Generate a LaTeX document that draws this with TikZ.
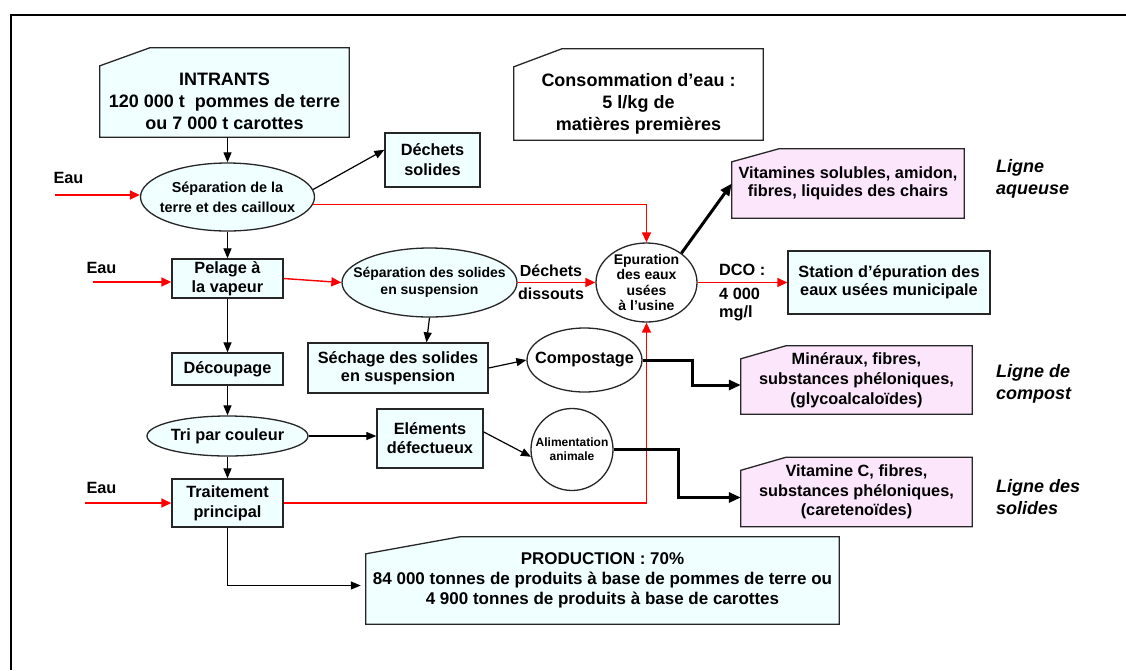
\documentclass[tikz,border=0pt]{standalone}
\usepackage{fontspec}
\setmainfont{Liberation Sans}
\usepackage{tikz}
\usetikzlibrary{
  arrows.meta,
  shapes.geometric,
  calc,
  backgrounds,
}
\definecolor{boxcyan}{HTML}{F0FFFF}
\definecolor{boxpink}{HTML}{FCE6FC}
\definecolor{edge}{HTML}{262626}

\begin{document}
\begin{tikzpicture}[
  x=1pt, y=-1pt,
  txt/.style={font=\fontsize{16.3}{19}\selectfont\bfseries, align=center, inner sep=0pt},
  box/.style={txt, draw=edge, line width=1.3pt, fill=boxcyan},
  cutbox/.style={txt},
  cutline/.style={draw=edge, line width=1.3pt},
  ell/.style={ellipse, draw=edge, line width=1.3pt, fill=boxcyan, inner sep=0pt},
  arr/.style={-{Triangle[length=10pt,width=8pt]}, line width=1.2pt},
  water/.style={-{Triangle[length=10pt,width=9pt]}, red, line width=1.4pt},
  heavy/.style={-{Triangle[length=12pt,width=10pt]}, line width=3pt},
  side/.style={font=\fontsize{18}{22}\selectfont\bfseries\itshape, align=left, anchor=west, inner sep=0pt},
]
  \useasboundingbox (0,0) rectangle (1126,670);
  % Frame
  \draw[line width=2pt] (11,670) -- (11,15) -- (1126,15);

  % Main line
  \node[cutbox, minimum width=249, minimum height=71, font=\fontsize{18}{22}\selectfont\bfseries] (intrants) at (224.5,101.5)
    {INTRANTS\\120~000~t\ \ pommes de terre\\ou 7~000~t carottes};
  \node[ell, minimum width=174, minimum height=68,
    label={[txt, font=\fontsize{14.4}{20}\selectfont\bfseries]center:{Séparation de la\\terre et des cailloux}}] (septerre) at (227.5,197) {};
  \node[box, minimum width=95, minimum height=54, font=\fontsize{16.3}{20}\selectfont\bfseries] (dechets) at (432.5,160) {Déchets\\solides};
  \node[cutbox, minimum width=249, minimum height=73, font=\fontsize{18}{22}\selectfont\bfseries] (conso) at (638.5,103.5)
    {Consommation d’eau :\\5 l/kg de\\matières premières};
  \node[box, minimum width=111, minimum height=39] (pelage) at (227.5,278.5) {Pelage à\\la vapeur};
  \node[ell, minimum width=175, minimum height=69,
    label={[txt, font=\fontsize{14}{17}\selectfont\bfseries]center:{Séparation des solides\\en suspension}}] (sepsol) at (429.5,282.5) {};
  \node[ell, fill=white, minimum width=101, minimum height=79,
    label={[txt, font=\fontsize{14}{15.5}\selectfont\bfseries]center:{Epuration\\des eaux\\usées\\à l’usine}}] (epur) at (646.5,282.5) {};
  \node[box, minimum width=202, minimum height=63, font=\fontsize{16.3}{18}\selectfont\bfseries] (station) at (889,282.5)
    {Station d’épuration des\\eaux usées municipale};
  \node[cutbox, minimum width=232, minimum height=69, font=\fontsize{16.3}{18}\selectfont\bfseries] (vitsol) at (848,183.5)
    {Vitamines solubles, amidon,\\fibres, liquides des chairs};
  \node[box, minimum width=111, minimum height=32] (decoup) at (227.5,369) {Découpage};
  \node[box, minimum width=180, minimum height=50, font=\fontsize{16.3}{18}\selectfont\bfseries] (sechage) at (398,368)
    {Séchage des solides\\en suspension};
  \node[ell, fill=white, minimum width=115, minimum height=64, label={[txt]center:Compostage}] (compost) at (584.5,360) {};
  \node[cutbox, minimum width=231, minimum height=68, font=\fontsize{16.3}{20}\selectfont\bfseries] (mineral) at (856.5,380)
    {Minéraux, fibres,\\substances phéloniques,\\(glycoalcaloïdes)};
  \node[ell, minimum width=161, minimum height=40, label={[txt]center:Tri par couleur}] (tri) at (227.5,436) {};
  \node[box, minimum width=106, minimum height=59] (elem) at (430,438.5) {Eléments\\défectueux};
  \node[circle, draw=edge, line width=1.3pt, fill=white, minimum size=82, inner sep=0pt,
    label={[txt, font=\fontsize{12}{14}\selectfont\bfseries]center:{Alimentation\\animale}}] (alim) at (572,449.5) {};
  \node[box, minimum width=111, minimum height=48, font=\fontsize{16.3}{20}\selectfont\bfseries] (traite) at (227.5,503)
    {Traitement\\principal};
  \node[cutbox, minimum width=231, minimum height=69, font=\fontsize{16.3}{19.5}\selectfont\bfseries] (vitc) at (856.5,492)
    {Vitamine C, fibres,\\substances phéloniques,\\(caretenoïdes)};
  \node[cutbox, minimum width=473, minimum height=87, font=\fontsize{17}{20}\selectfont\bfseries] (prod) at (602.5,580.5)
    {PRODUCTION : 70\%\\84~000 tonnes de produits à base de pommes de terre ou\\4~900 tonnes de produits à base de carottes};

  % Side texts
  \node[txt] (eauA) at (68.5,178) {Eau};
  \node[txt] (eauB) at (101.5,268) {Eau};
  \node[txt] (eauC) at (101.5,488) {Eau};
  \node[txt, font=\fontsize{16}{23}\selectfont\bfseries] (dissous) at (551,282.5) {Déchets\\dissouts};
  \node[txt, anchor=west] (dco) at (719,270) {DCO :};
  \node[txt, anchor=west, align=left, font=\fontsize{16.3}{18}\selectfont\bfseries] (dcoval) at (719,305) {4~000\\mg/l};
  \node[side] (aqueuse) at (996,179) {Ligne\\aqueuse};
  \node[side] (lcompost) at (996,383.5) {Ligne de\\compost};
  \node[side] (lsolides) at (996,497.5) {Ligne des\\solides};

  \coordinate (inA) at (55,195);
  \coordinate (inB) at (93,282);
  \coordinate (inC) at (85,503);

  % Cut-corner boxes
  \begin{scope}[on background layer]
    \draw[cutline, fill=boxcyan] (intrants.south west) -- (intrants.north west)
      -- ($(intrants.north west)+(50,-18)$) -- ($(intrants.north east)+(0,-18)$) -- (intrants.south east) -- cycle;
    \draw[cutline, fill=white] (conso.south west) -- (conso.north west)
      -- ($(conso.north west)+(48,-18)$) -- ($(conso.north east)+(0,-18)$) -- (conso.south east) -- cycle;
    \draw[cutline, fill=boxpink] (vitsol.south west) -- ($(vitsol.north west)+(0,13)$)
      -- ($(vitsol.north west)+(47,0)$) -- (vitsol.north east) -- (vitsol.south east) -- cycle;
    \draw[cutline, fill=boxpink] (mineral.south west) -- ($(mineral.north west)+(0,13)$)
      -- ($(mineral.north west)+(45,0)$) -- (mineral.north east) -- (mineral.south east) -- cycle;
    \draw[cutline, fill=boxpink] (vitc.south west) -- ($(vitc.north west)+(0,13)$)
      -- ($(vitc.north west)+(45,0)$) -- (vitc.north east) -- (vitc.south east) -- cycle;
    \draw[cutline, fill=boxcyan] (prod.south west) -- ($(prod.north west)+(0,17)$)
      -- ($(prod.north west)+(94,0)$) -- (prod.north east) -- (prod.south east) -- cycle;
  \end{scope}

  % Product flow
  \draw[arr] (intrants.south -| septerre.north) -- (septerre.north);
  \draw[arr] (septerre.5) -- (dechets.168);
  \draw[arr] (septerre.south) -- (pelage.north);
  \draw[arr] (pelage.south) -- (decoup.north);
  \draw[arr] (decoup.south) -- (tri.north);
  \draw[arr] (tri.south) -- (traite.north);
  \draw[arr] (sepsol.south) -- (sechage.42);
  \draw[arr] (sechage.east) -- (compost.west);
  \draw[arr] (tri.east) -- (tri.east -| elem.west);
  \draw[arr] (elem.7) -- (alim.190);
  \draw[arr, shorten >=5pt] (traite.south) |- ([yshift=-5pt]prod.west);

  % Water
  \draw[water] (inA) -- (inA -| septerre.west);
  \draw[water] (inB) -- (inB -| pelage.west);
  \draw[water] (inC) -- (traite.west);
  \draw[water] (septerre.-5) -| (epur.north);
  \draw[water] (pelage.east) -- (sepsol.west);
  \draw[water] (sepsol.east) -- (epur.west);
  \draw[water] (epur.east) -- (station.west);
  \draw[water] (traite.east) -| (epur.south);

  % By-product lines
  \draw[heavy] (epur.40) -- (vitsol.west);
  \draw[heavy] (compost.east) -- ++(50,0) |- ([yshift=-5pt]mineral.west);
  \draw[heavy] (alim.east) -- ++(65,0) |- ([yshift=-5.5pt]vitc.west);
\end{tikzpicture}
\end{document}
